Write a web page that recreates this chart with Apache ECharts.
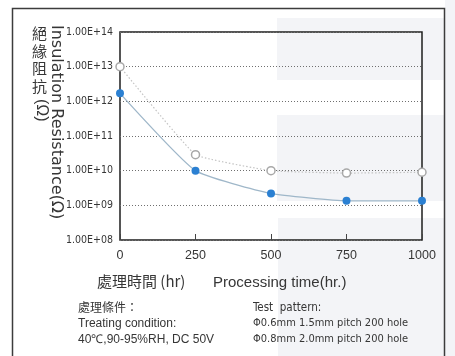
<!DOCTYPE html>
<html>
<head>
<meta charset="utf-8">
<script src="https://cdn.jsdelivr.net/npm/echarts@6/dist/echarts.min.js"></script>
<style>
  html, body { margin: 0; padding: 0; background: #ffffff; }
  #chart { width: 455px; height: 356px; }
</style>
</head>
<body>
<div id="chart"></div>
<script>
// Processing time (hr)
const hours = [0, 250, 500, 750, 1000];
// Insulation resistance (Ω), test pattern Φ0.8mm 2.0mm pitch (hollow markers)
const resistanceWide = [1.0e13, 2.9e10, 1.0e10, 8.5e9, 9.0e9];
// Insulation resistance (Ω), test pattern Φ0.6mm 1.5mm pitch (blue markers)
const resistanceNarrow = [1.7e12, 1.0e10, 2.2e9, 1.35e9, 1.35e9];
// Y axis range, as powers of ten
const yMinExp = 8;
const yMaxExp = 14;

const narrowFont = "'Liberation Sans Narrow', 'DejaVu Sans Condensed', 'Liberation Sans', sans-serif";
const textColor = '#363636';
const paperShade = '#f3f4f7';

function pairs(xs, ys) { return xs.map((x, i) => [x, ys[i]]); }

function sciLabel(v) {
  const e = Math.round(Math.log10(v));
  return '1.00E+' + (e < 10 ? '0' + e : e);
}

// Stacked CJK title on the left
const cjkTitle = ['絕', '緣', '阻', '抗'];
const cjkTitleEls = cjkTitle.map((ch, i) => ({
  type: 'text', left: 32, top: 26 + i * 17.5,
  style: { text: ch, font: '15px "Noto Sans CJK TC", sans-serif', fill: textColor }
}));

// faint shading of the printed paper
const shadeRects = [
  [277, 18, 178, 62],
  [277, 115, 178, 86],
  [278, 218, 177, 138],
  [445, 0, 10, 356]
].map(([x, y, w, h]) => ({
  type: 'rect', shape: { x, y, width: w, height: h }, style: { fill: paperShade }, z: -10, silent: true
}));

const chart = echarts.init(document.getElementById('chart'), null, { renderer: 'canvas' });

chart.setOption({
  animation: false,
  backgroundColor: '#ffffff',
  grid: { left: 120, top: 32, right: 33, bottom: 116, show: true, borderColor: '#1e1e1e', borderWidth: 1.5, backgroundColor: 'transparent' },
  xAxis: {
    type: 'value', min: 0, max: 1000, interval: 250,
    axisLine: { show: false },
    axisTick: { show: true, inside: true, length: 6, lineStyle: { color: '#444' } },
    axisLabel: { color: textColor, fontSize: 12.5, fontFamily: "'Liberation Sans', sans-serif", margin: 9, formatter: v => String(v) },
    splitLine: { show: false }
  },
  yAxis: {
    type: 'log', logBase: 10, min: Math.pow(10, yMinExp), max: Math.pow(10, yMaxExp), interval: 1,
    axisLine: { show: false },
    axisTick: { show: false },
    axisLabel: { color: textColor, fontSize: 10.5, fontFamily: narrowFont, margin: 7, formatter: sciLabel },
    splitLine: { show: true, lineStyle: { color: '#6f6f6f', type: [1, 2], width: 1 } }
  },
  series: [
    {
      type: 'line', data: pairs(hours, resistanceWide), smooth: 0.1,
      symbol: 'circle', symbolSize: 8,
      lineStyle: { color: '#c4c4c4', width: 1.2, type: [1.5, 2] },
      itemStyle: { color: '#ffffff', borderColor: '#a8a8a8', borderWidth: 1.5 },
      z: 3
    },
    {
      type: 'line', data: pairs(hours, resistanceNarrow), smooth: 0.15,
      symbol: 'circle', symbolSize: 8,
      lineStyle: { color: '#9fb7c9', width: 1.3 },
      itemStyle: { color: '#2b80d2', borderWidth: 0 },
      z: 4
    }
  ],
  graphic: [
    ...shadeRects,
    // outer frame
    { type: 'rect', shape: { x: 12.5, y: 8.5, width: 432, height: 360 }, style: { fill: 'none', stroke: '#3c3c3c', lineWidth: 1.5 }, z: -1 },
    ...cjkTitleEls,
    { type: 'text', left: 33, top: 99, rotation: -Math.PI / 2,
      style: { text: '(Ω)', font: '16px "Liberation Sans", sans-serif', fill: textColor } },
    { type: 'text', left: 48, top: 25, rotation: -Math.PI / 2,
      style: { text: 'Insulation Resistance(Ω)', font: '16px "DejaVu Sans", sans-serif', fill: textColor } },
    // x axis title
    { type: 'text', left: 97, top: 274, style: { text: '處理時間 (hr)', font: '15px "Noto Sans CJK TC", sans-serif', fill: textColor } },
    { type: 'text', left: 213, top: 275, style: { text: 'Processing time(hr.)', font: '15px "Liberation Sans", sans-serif', fill: textColor } },
    // treating condition notes
    { type: 'text', left: 78, top: 301, style: { text: '處理條件：', font: '12px "Noto Sans CJK TC", sans-serif', fill: textColor } },
    { type: 'text', left: 78, top: 318, style: { text: 'Treating condition:', font: '12px "Liberation Sans", sans-serif', fill: textColor } },
    { type: 'text', left: 78, top: 334, style: { text: '40℃,90-95%RH, DC 50V', font: '12px "Liberation Sans", sans-serif', fill: textColor } },
    { type: 'text', left: 253, top: 302, style: { text: 'Test  pattern:', font: '11.5px ' + narrowFont, fill: textColor } },
    { type: 'text', left: 253, top: 318, style: { text: 'Φ0.6mm 1.5mm pitch 200 hole', font: '11px ' + narrowFont, fill: textColor } },
    { type: 'text', left: 253, top: 334, style: { text: 'Φ0.8mm 2.0mm pitch 200 hole', font: '11px ' + narrowFont, fill: textColor } }
  ]
});
</script>
</body>
</html>
